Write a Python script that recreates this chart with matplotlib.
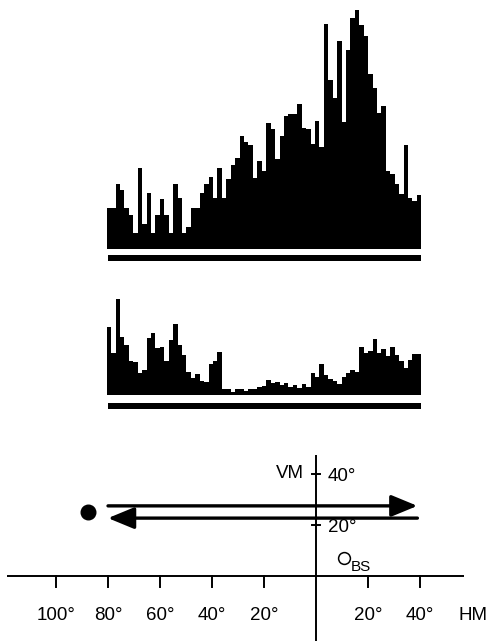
import numpy as np
import matplotlib
matplotlib.use("Agg")
import matplotlib.pyplot as plt

plt.rcParams['font.family'] = ['Liberation Sans', 'DejaVu Sans']

# spike-count histograms (arbitrary units), 71 bins spanning 80 deg left to 40 deg right
top_counts = [41, 41, 65, 59, 41, 34, 16, 81, 25, 56, 16, 34, 50, 34, 16, 65, 51, 16,
              22, 41, 41, 56, 65, 72, 51, 81, 51, 70, 84, 91, 113, 107, 104, 71, 88, 78,
              126, 120, 90, 113, 133, 135, 135, 145, 121, 120, 105, 128, 102, 225, 169,
              151, 208, 127, 199, 231, 239, 224, 213, 175, 161, 136, 143, 78, 75, 65, 55,
              104, 51, 48, 54]
bottom_counts = [68, 42, 96, 58, 50, 34, 33, 22, 25, 57, 62, 47, 48, 34, 55, 71, 50, 40,
                 23, 17, 21, 14, 13, 31, 34, 43, 6, 6, 3, 6, 6, 4, 6, 6, 8, 9,
                 15, 12, 13, 10, 12, 8, 10, 7, 11, 8, 22, 18, 31, 20, 16, 14, 11, 18,
                 22, 25, 23, 48, 42, 44, 56, 42, 46, 39, 48, 40, 34, 27, 35, 41, 41]
hist_range = (-80.5, 40.5)

# visual field map (deg; negative x = left of vertical meridian)
hm_ticks = [-100, -80, -60, -40, -20, 20, 40]
hm_labels = ['100°', '80°', '60°', '40°', '20°', '20°', '40°']
vm_ticks = [20, 40]
vm_labels = ['20°', '40°']
sweep_start, sweep_end = -80, 39
sweep_up_y, sweep_down_y = 27.5, 22.7
fixation = (-87.7, 25.1)
blind_spot = (10.8, 7.0)

W, H = 487, 641
fig = plt.figure(figsize=(W / 100, H / 100), dpi=100)

px_per_deg = 2.6
x0 = 316
xlim = (-x0 / px_per_deg, (W - x0) / px_per_deg)


def add_ax(top_px, bottom_px):
    ax = fig.add_axes([0, 1 - bottom_px / H, 1, (bottom_px - top_px) / H])
    ax.set_xlim(*xlim)
    ax.axis('off')
    return ax


# top histogram
ax1 = add_ax(0, 265)
ax1.set_ylim(-16, 249)
edges = np.linspace(hist_range[0], hist_range[1], len(top_counts) + 1)
ax1.stairs(top_counts, edges, fill=True, color='black', lw=0)
ax1.bar(-80, -6, width=120.5, bottom=-6, align='edge', color='black', lw=0)

# bottom histogram
ax2 = add_ax(290, 415)
ax2.set_ylim(-20, 105)
edges = np.linspace(hist_range[0], hist_range[1], len(bottom_counts) + 1)
ax2.stairs(bottom_counts, edges, fill=True, color='black', lw=0)
ax2.bar(-80, -6, width=120.5, bottom=-8, align='edge', color='black', lw=0)

# visual field map
ax3 = add_ax(440, 641)
py = 2.55
fs = 13.5
ax3.set_ylim(-(H - 576) / py, (576 - 440) / py)
ax3.plot([-118.8, 56.9], [0, 0], color='black', lw=1.4, solid_capstyle='butt')
ax3.plot([0, 0], [-30, 47.5], color='black', lw=1.4, solid_capstyle='butt')
for t, lab in zip(hm_ticks, hm_labels):
    ax3.plot([t, t], [0, -4.3], color='black', lw=1.4)
    ax3.text(t, -15.3, lab, ha='center', va='center', fontsize=fs)
ax3.text(60.5, -15.3, 'HM', ha='center', va='center', fontsize=fs)
for t, lab in zip(vm_ticks, vm_labels):
    ax3.plot([-1.6, 1.6], [t, t], color='black', lw=1.4)
    ax3.text(4.5, t - 0.8, lab, ha='left', va='center', fontsize=fs)
ax3.text(-4.5, 40, 'VM', ha='right', va='center', fontsize=fs)

arrow_kw = dict(arrowstyle='-|>,head_length=0.8,head_width=0.33', color='black',
                lw=2.4, shrinkA=0, shrinkB=0, mutation_scale=20)
ax3.annotate('', xy=(sweep_end, sweep_up_y), xytext=(sweep_start, sweep_up_y),
             arrowprops=arrow_kw)
ax3.annotate('', xy=(sweep_start, sweep_down_y), xytext=(sweep_end, sweep_down_y),
             arrowprops=arrow_kw)
ax3.plot(*fixation, 'o', color='black', ms=10.5)
ax3.plot(*blind_spot, 'o', mfc='white', mec='black', mew=1.1, ms=8.5)
ax3.text(blind_spot[0] + 2.6, blind_spot[1] - 3.6, 'BS', ha='left', va='center',
         fontsize=11)

fig.savefig('out.png', dpi=100)
